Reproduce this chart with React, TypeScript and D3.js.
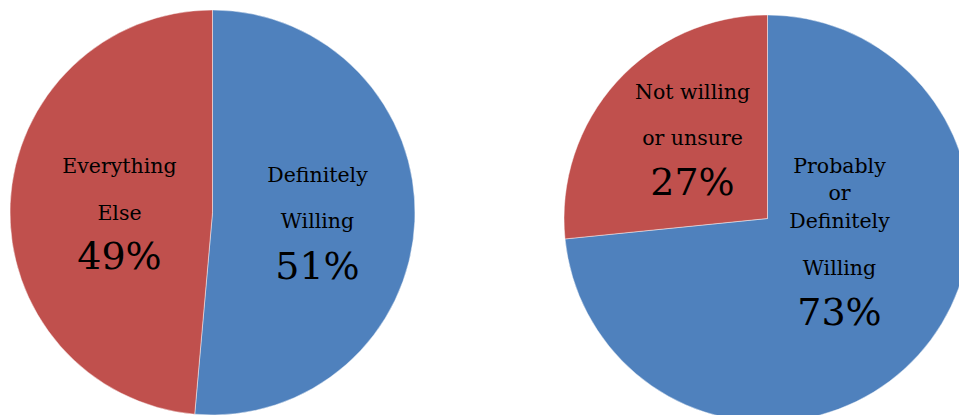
import React from "react";
import * as d3 from "d3";

const leftCategories = ["Definitely Willing", "Everything Else"];
const leftValues = [51.4, 48.6];
const leftPercentLabels = ["51%", "49%"];

const rightCategories = ["Probably or Definitely Willing", "Not willing or unsure"];
const rightValues = [73.4, 26.6];
const rightPercentLabels = ["73%", "27%"];

const colors = ["#4F81BD", "#C0504D"];
const FONT = "'DejaVu Serif', 'Liberation Serif', serif";

type LabelLayout = { x: number; lines: { text: string; y: number; big?: boolean }[] };

function Pie({ cx, cy, r, values, labels }: { cx: number; cy: number; r: number; values: number[]; labels: LabelLayout[] }) {
  const pie = d3.pie<number>().sort(null).value((d) => d);
  const arc = d3.arc<d3.PieArcDatum<number>>().innerRadius(0).outerRadius(r);
  const arcs = pie(values);
  return (
    <g transform={`translate(${cx},${cy})`}>
      {arcs.map((a, i) => (
        <path key={i} d={arc(a) || ""} fill={colors[i]} stroke="#ffffff" strokeOpacity={0.6} strokeWidth={0.75} />
      ))}
      {labels.map((l, i) => (
        <g key={"l" + i}>
          {l.lines.map((ln, j) => (
            <text key={j} x={l.x} y={ln.y} textAnchor="middle" fontFamily={FONT} fontSize={ln.big ? 38 : 20.5} fill="#000">
              {ln.text}
            </text>
          ))}
        </g>
      ))}
    </g>
  );
}

export default function App() {
  const leftLabels: LabelLayout[] = [
    { x: 105, lines: [{ text: "Definitely", y: -31 }, { text: "Willing", y: 15 }, { text: leftPercentLabels[0], y: 66, big: true }] },
    { x: -93, lines: [{ text: "Everything", y: -40 }, { text: "Else", y: 7 }, { text: leftPercentLabels[1], y: 56, big: true }] },
  ];
  const rightLabels: LabelLayout[] = [
    {
      x: 72,
      lines: [
        { text: "Probably", y: -46 },
        { text: "or", y: -19 },
        { text: "Definitely", y: 9 },
        { text: "Willing", y: 56 },
        { text: rightPercentLabels[0], y: 106, big: true },
      ],
    },
    { x: -75, lines: [{ text: "Not willing", y: -120 }, { text: "or unsure", y: -74 }, { text: rightPercentLabels[1], y: -24, big: true }] },
  ];
  return (
    <svg width={959} height={415} style={{ position: "absolute", left: 0, top: 0, background: "#fff" }}>
      <Pie cx={212.5} cy={212.5} r={202.5} values={leftValues} labels={leftLabels} />
      <Pie cx={767.5} cy={218.5} r={203.5} values={rightValues} labels={rightLabels} />
    </svg>
  );
}
